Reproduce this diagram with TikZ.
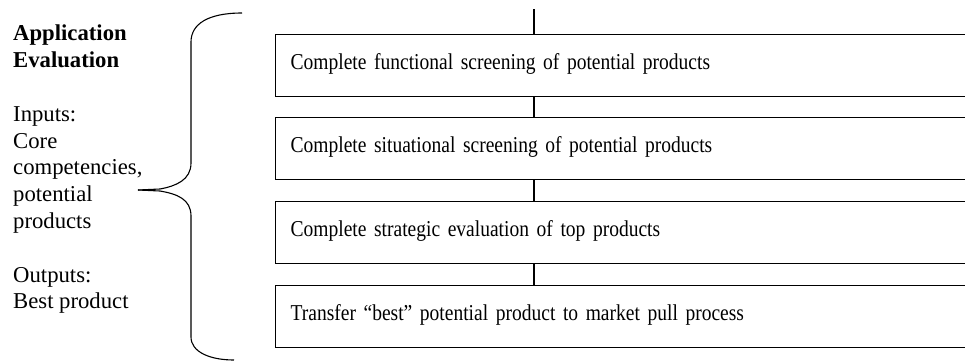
\documentclass[tikz,border=0pt]{standalone}
\usepackage{fontspec}
\setmainfont{Liberation Serif}
\newfontfamily\boxfont[FakeStretch=0.86]{Liberation Serif}
\usepackage{tikz}
\usetikzlibrary{positioning}

\tikzset{
  stage/.style={draw, line width=1.2pt, anchor=north west, inner xsep=15pt, inner ysep=0pt,
    text width=700pt, align=left, text height=35pt, text depth=27pt,
    font=\boxfont\fontsize{22.7}{26}\selectfont},
  link/.style={line width=1.1pt},
  brace/.style={line width=1.1pt}
}

\begin{document}
\begin{tikzpicture}[x=1pt,y=-1pt]

		\useasboundingbox (0,0) rectangle (965,362);
		\clip (0,0) rectangle (965,362);

		\node[anchor=north west, inner sep=0pt, align=left, font=\fontsize{22.7}{26.8}\selectfont] (info) at (13,25)
		  {\textbf{Application}\\\textbf{Evaluation}\\[26.8pt]Inputs:\\Core\\competencies,\\potential\\products\\[26.8pt]Outputs:\\Best product};

		\node[stage] (func) at (275,33.5) {Complete functional screening of potential products};
		\node[stage, below=20.5pt of func] (situ) {Complete situational screening of potential products};
		\node[stage, below=20.5pt of situ] (strat) {Complete strategic evaluation of top products};
		\node[stage, below=20.5pt of strat] (transfer) {Transfer “best” potential product to market pull process};

		\coordinate (top) at (534,9);
		\coordinate (tip) at (138,190);

		\draw[link] (top) -- (func.north -| top);
		\draw[link] (func.south -| top) -- (situ.north -| top);
		\draw[link] (situ.south -| top) -- (strat.north -| top);
		\draw[link] (strat.south -| top) -- (transfer.north -| top);

		% brace
		\draw[brace] (242,13) .. controls (208,13) and (191,24) .. (191,42) -- (191,163)
		  .. controls (191,180) and (176,186) .. (160,189) -- (tip);
		\draw[brace] (tip) -- (160,191) .. controls (177,194) and (191,199) .. (191,216) -- (191,337)
		  .. controls (191,352) and (210,360) .. (234,360);
	\end{tikzpicture}
\end{document}
